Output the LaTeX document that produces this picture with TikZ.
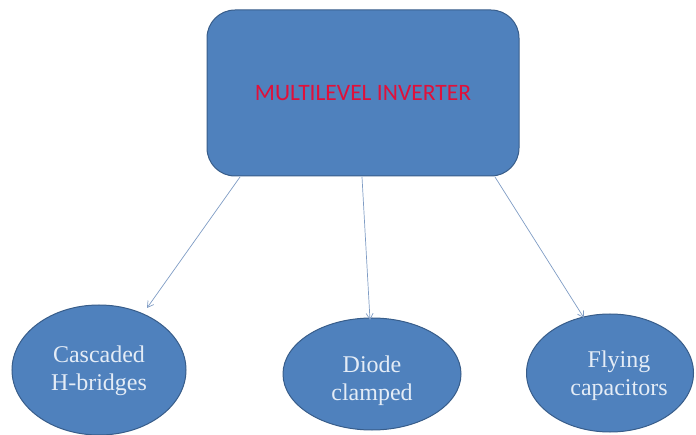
\documentclass[tikz,border=0pt]{standalone}
\usepackage{fontspec}
\setmainfont{Liberation Serif}
\newfontfamily\headfont{Carlito}
\usetikzlibrary{shapes.geometric,arrows.meta}
\definecolor{boxblue}{HTML}{4F81BD}
\definecolor{boxedge}{HTML}{385D8A}
\definecolor{arrowcol}{HTML}{7F9CC4}
\definecolor{headred}{HTML}{E0103A}
\definecolor{lighttext}{HTML}{E4ECF6}
\tikzset{
  headbox/.style={draw=boxedge, line width=1pt, fill=boxblue, rounded corners=28pt,
    minimum width=312pt, minimum height=166pt, inner sep=0pt,
    font=\headfont\fontsize{23.5}{28}\selectfont, text=headred},
  leaf/.style={ellipse, draw=boxedge, line width=1pt, fill=boxblue, inner sep=0pt},
  leaftext/.style={align=center, text=lighttext, font=\fontsize{24}{28}\selectfont, inner sep=0pt},
  conn/.style={draw=arrowcol, line width=0.7pt, -{Straight Barb[length=6pt,width=7pt]}}
}
\begin{document}
\begin{tikzpicture}[x=1pt,y=-1pt]
\useasboundingbox (0,0) rectangle (696,435);
\node[headbox] (top) at (363,93) {MULTILEVEL INVERTER};
\node[leaf, minimum width=174pt, minimum height=130pt,
  label={[leaftext, yshift=-1pt]center:{Cascaded\\H-bridges}}] (chb) at (99,370) {};
\node[leaf, minimum width=178pt, minimum height=112pt,
  label={[leaftext, yshift=-7pt]center:{Diode\\clamped}}] (dc) at (372,374) {};
\node[leaf, minimum width=167pt, minimum height=118pt,
  label={[leaftext, xshift=9pt, yshift=-3pt]center:{Flying\\capacitors}}] (fc) at (610,373) {};
\coordinate (s1) at (240,177);
\coordinate (s2) at (362,177);
\coordinate (s3) at (495,177);
\coordinate (e1) at (147,308);
\coordinate (e2) at (370,320);
\coordinate (e3) at (584,318);
\draw[conn] (s1) -- (e1);
\draw[conn] (s2) -- (e2);
\draw[conn] (s3) -- (e3);
\end{tikzpicture}
\end{document}
